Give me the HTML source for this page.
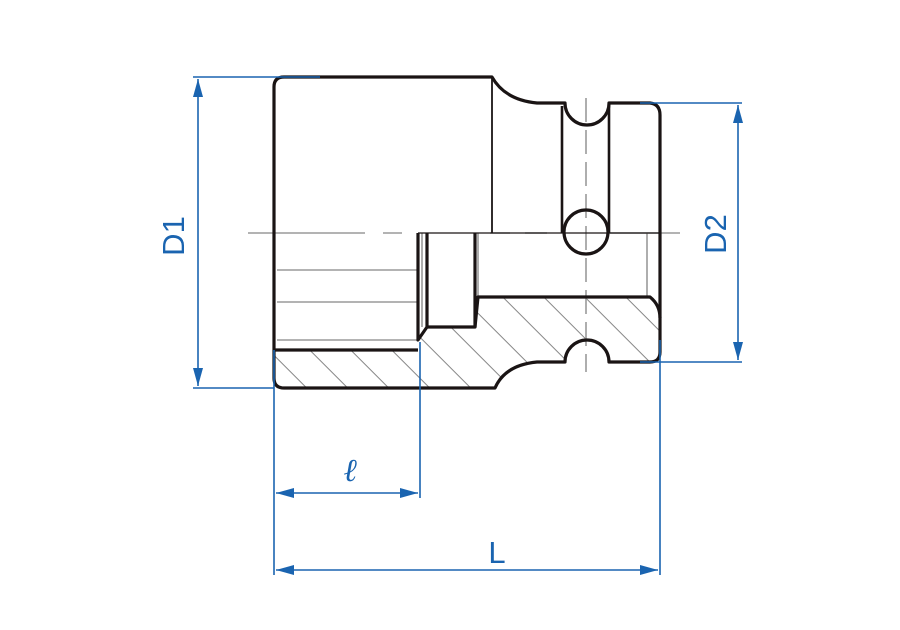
<!DOCTYPE html>
<html><head><style>body{margin:0;background:#fff}svg{display:block}</style></head><body>
<svg width="900" height="630" viewBox="0 0 900 630" xmlns="http://www.w3.org/2000/svg">
<defs>
<pattern id="h" patternUnits="userSpaceOnUse" width="29" height="29" patternTransform="rotate(-45)">
<line x1="0" y1="0" x2="0" y2="29" stroke="#888" stroke-width="2"/>
</pattern>
<marker id="a" viewBox="0 0 18 10" refX="18" refY="5" markerWidth="18" markerHeight="10" markerUnits="userSpaceOnUse" orient="auto-start-reverse"><path d="M0,0 L18,5 L0,10 Z" fill="#1a64b0"/></marker>
</defs>
<path d="M274,350 L418,350 L418,388 L282,388 Q274,388 274,380 Z" fill="url(#h)"/>
<path d="M418,340 L427,327 L475,327 L478,297 L650,297 Q660,305 660,320 L660,352 Q660,362 650,362 L609,362 A22,22 0 0 0 565,362 L537,362 Q505,365 495,388 L418,388 Z" fill="url(#h)"/>
<g stroke="#9a9a9a" stroke-width="1.6" fill="none">
<line x1="248" y1="233" x2="365" y2="233"/>
<line x1="383" y1="233" x2="402" y2="233"/>
<line x1="490" y1="233" x2="510" y2="233"/>
<line x1="525" y1="233" x2="547" y2="233"/>
<line x1="610" y1="233" x2="680" y2="233"/>
<line x1="586" y1="98" x2="586" y2="372" stroke-dasharray="24,8"/>
<line x1="277" y1="270" x2="418" y2="270"/>
<line x1="277" y1="302" x2="418" y2="302"/>
<line x1="277" y1="340" x2="418" y2="340"/>
<line x1="478" y1="233" x2="478" y2="297"/>
<line x1="647" y1="233" x2="647" y2="297"/>
<line x1="422" y1="233" x2="422" y2="327"/>
</g>
<g stroke="#1a1414" stroke-width="3.2" fill="none" stroke-linejoin="round">
<path d="M274,87 Q274,77 284,77 L492,77 Q505,100 537,103 L565,103 A22,22 0 0 0 609,103 L650,103 Q660,104 660,115 L660,352 Q660,362 650,362 L609,362 A22,22 0 0 0 565,362 L537,362 Q505,365 495,388 L284,388 Q274,388 274,378 Z"/>
<line x1="492" y1="77" x2="492" y2="233" stroke-width="1.8"/>
<line x1="562" y1="106" x2="562" y2="233" stroke-width="2.6"/>
<line x1="609" y1="106" x2="609" y2="233" stroke-width="2.6"/>
<circle cx="586" cy="232" r="22"/>
<path d="M274,350 L418,350"/>
<path d="M418,233 L418,340 L427,327 L427,233"/>
<path d="M427,327 L475,327 L475,233"/>
<path d="M475,327 L478,297 L650,297 Q660,305 660,318"/>
<line x1="418" y1="233" x2="660" y2="233" stroke-width="1.2"/>
</g>
<g stroke="#1a64b0" stroke-width="1.6" fill="none">
<line x1="193" y1="77" x2="320" y2="77"/>
<line x1="193" y1="388" x2="274" y2="388"/>
<line x1="198" y1="79" x2="198" y2="386" marker-start="url(#a)" marker-end="url(#a)"/>
<line x1="640" y1="103" x2="742" y2="103"/>
<line x1="640" y1="362" x2="742" y2="362"/>
<line x1="738" y1="105" x2="738" y2="360" marker-start="url(#a)" marker-end="url(#a)"/>
<line x1="274" y1="350" x2="274" y2="575"/>
<line x1="420" y1="342" x2="420" y2="498"/>
<line x1="660" y1="340" x2="660" y2="575"/>
<line x1="276" y1="493" x2="418" y2="493" marker-start="url(#a)" marker-end="url(#a)"/>
<line x1="276" y1="570" x2="658" y2="570" marker-start="url(#a)" marker-end="url(#a)"/>
</g>
<g fill="#1a64b0" font-family="Liberation Sans, sans-serif" font-size="31">
<text transform="translate(184,236) rotate(-90)" text-anchor="middle">D1</text>
<text transform="translate(726,234) rotate(-90)" text-anchor="middle">D2</text>
<text x="350" y="481" text-anchor="middle" font-family="Liberation Serif, serif" font-style="italic" font-size="32">ℓ</text>
<text x="497" y="563" text-anchor="middle">L</text>
</g>
</svg>
</body></html>
